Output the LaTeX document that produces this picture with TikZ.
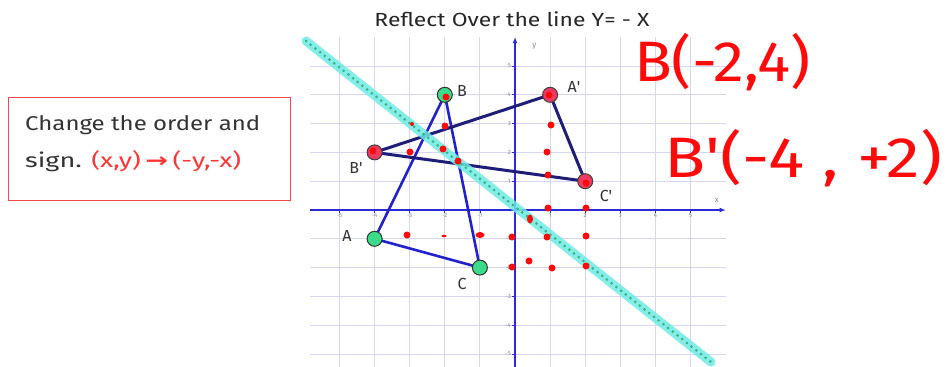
\documentclass[tikz,border=0pt]{standalone}
\usepackage{fontspec}
\setmainfont{Fira Sans}
\newfontfamily\arrowfont{DejaVu Sans}
\usetikzlibrary{arrows.meta,shapes.geometric}
\definecolor{gridc}{HTML}{D6D6F2}
\definecolor{axisc}{HTML}{2B2BD6}
\definecolor{triA}{HTML}{2222CC}
\definecolor{triB}{HTML}{1E1E78}
\definecolor{greenpt}{HTML}{3CDB8A}
\definecolor{pinkpt}{HTML}{EE3A60}
\definecolor{hl}{HTML}{6FEAE4}
\definecolor{hldot}{HTML}{33B585}
\definecolor{pen}{HTML}{FF0A0A}
\definecolor{boxred}{HTML}{F04848}
\definecolor{txtred}{HTML}{FF3535}
\definecolor{tickc}{HTML}{8A8A9A}
\newcommand{\pr}{\textquotesingle}
\begin{document}
\begin{tikzpicture}[x=1pt,y=-1pt,
  gpt/.style={circle,draw=black!80,line width=1pt,fill=greenpt,minimum size=15pt,inner sep=0pt},
  ppt/.style={circle,draw=black!75,line width=1pt,fill=pinkpt,minimum size=15pt,inner sep=0pt},
  rdot/.style={circle,fill=pen,inner sep=0pt,minimum size=7pt},
  sdot/.style={circle,fill=pen,inner sep=0pt,minimum size=4pt},
  ptlabel/.style={font=\fontsize{16}{17}\selectfont,text=black!80},
  ticklab/.style={font=\fontsize{6}{7}\selectfont,text=tickc,inner sep=1pt},
  handw/.style={font=\fontsize{57}{62}\selectfont,text=pen},
  edgeA/.style={triA,line width=2.6pt,line cap=round},
  edgeB/.style={triB,line width=3pt,line cap=round},
  axisline/.style={axisc,line width=1.3pt,-{Latex[length=6pt,width=5pt]}}]
\useasboundingbox[fill=white] (0,0) rectangle (946,367);

% title
\node[font=\fontsize{19}{21}\selectfont,text=black!85] (title) at (512,19)
  {\resizebox{275pt}{\height}{Reflect Over the line Y= - X}};

% explanation box
\node[draw=boxred,line width=1.3pt,anchor=north west,minimum height=103pt,minimum width=282pt,
      inner sep=0pt] (rulebox) at (8,97) {};
\node[anchor=west,inner sep=0pt,align=left,font=\fontsize{20}{37}\selectfont,text=black!80]
  (ruletext) at (25,144)
  {\resizebox{235pt}{\height}{Change the order and}\\
   \resizebox{216pt}{\height}{sign. \textcolor{txtred}{(x,y)\,{\arrowfont\bfseries →}\,(-y,-x)}}};

% graph
\begin{scope}[shift={(515,210)},x=35.1pt,y=28.8pt]
  \foreach \i in {-5,...,5} \draw[gridc,line width=0.9pt] (\i,-5.6) -- (\i,6);
  \foreach \j in {-5,...,5} \draw[gridc,line width=0.9pt] (-5.85,\j) -- (6,\j);
  \draw[axisline] (-5.85,0) -- (6,0);
  \draw[axisline] (0,-5.6) -- (0,6);
  \foreach \i in {-5,...,-1,1,2,3,4,5} {
    \draw[axisc,line width=0.8pt] (\i,0) -- ++(0pt,-3pt);
    \node[ticklab,below=2pt] (xt\i) at (\i,0) {\i};
    \draw[axisc,line width=0.8pt] (0,\i) -- ++(-3pt,0pt);
    \node[ticklab,left=3pt] (yt\i) at (0,\i) {\i};
  }
  \node[ticklab,font=\fontsize{8}{9}\selectfont] (xlab) at (5.75,0.35) {x};
  \node[ticklab,font=\fontsize{8}{9}\selectfont] (ylab) at (0.55,5.7) {y};

  \coordinate (A) at (-4,-1);
  \coordinate (B) at (-2,4);
  \coordinate (C) at (-1,-2);
  \coordinate (A') at (1,4);
  \coordinate (B') at (-4,2);
  \coordinate (C') at (2,1);
\end{scope}

\draw[edgeA] (A) -- (B) -- (C) -- cycle;
\draw[edgeB] (A') -- (B') -- (C') -- cycle;

% highlighted line y = -x
\draw[hl,line width=9pt,line cap=round,opacity=0.85] (306,41) -- (711,362);
\draw[hldot,line width=3pt,line cap=round,dash pattern=on 0pt off 6pt] (306,41) -- (711,362);

% points
\node[gpt] (pA) at (A) {};
\node[gpt] (pB) at (B) {};
\node[gpt] (pC) at (C) {};
\node[ppt] (pA') at (A') {};
\node[ppt] (pB') at (B') {};
\node[ppt] (pC') at (C') {};

% point labels
\node[ptlabel] (lA) at (347,236) {A};
\node[ptlabel] (lB) at (462,91) {B};
\node[ptlabel] (lC) at (462,284) {C};
\node[ptlabel] (lA') at (574,87) {A\pr};
\node[ptlabel] (lB') at (356,168) {B\pr};
\node[ptlabel] (lC') at (606,196) {C\pr};

% red pen dots
\foreach \p [count=\k] in {(446,97),(549,95),(373,151),(586,183),
  (445,126),(410,152),(443,149),(458,161),(551,125),(547,152),(548,175),
  (548,208),(586,208),(407,235),(512,237),(547,237),(586,236),
  (512,267),(529,261),(552,268),(586,266)}
  \node[rdot] (rd\k) at \p {};
\node[sdot] (sd1) at (412,124) {};
\node[ellipse,fill=pen,inner sep=0pt,minimum width=5pt,minimum height=2.5pt] (sd2) at (444,236) {};
\node[ellipse,fill=pen,inner sep=0pt,minimum width=6pt,minimum height=9pt] (sd3) at (530,219) {};
\node[ellipse,fill=pen,inner sep=0pt,minimum width=9pt,minimum height=6pt] (sd4) at (480,235) {};

% handwritten notes
\node[handw,anchor=west,inner sep=0pt] (noteB) at (634,62) {\resizebox{176pt}{\height}{B(-2,4)}};
\node[handw,anchor=west,inner sep=0pt] (noteBp) at (664,158) {\resizebox{278pt}{\height}{B\pr(-4 , +2)}};
\end{tikzpicture}
\end{document}
